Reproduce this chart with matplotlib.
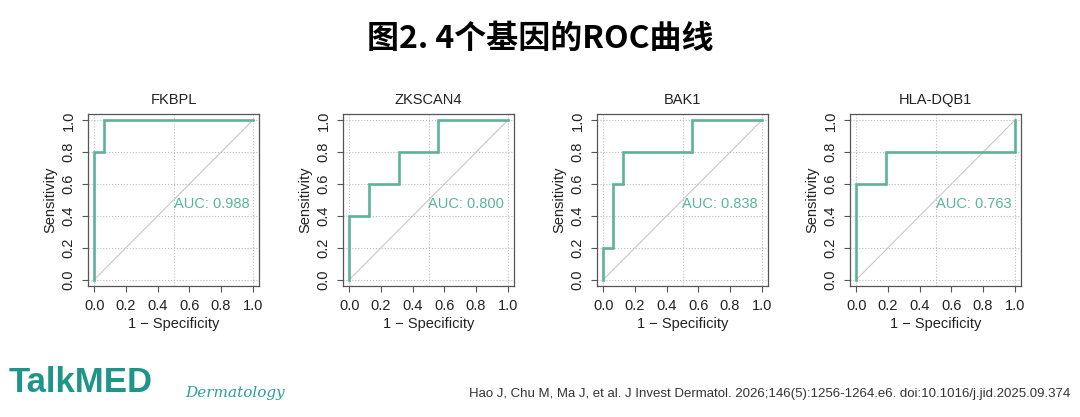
import numpy as np
import matplotlib
matplotlib.use('Agg')
import matplotlib.pyplot as plt

# ROC step curves (x = 1 - specificity, y = sensitivity)
genes = ['FKBPL', 'ZKSCAN4', 'BAK1', 'HLA-DQB1']
auc_values = [0.988, 0.800, 0.838, 0.763]
fpr = [
    [0, 0, 0.0625, 0.0625, 1],
    [0, 0, 0.125, 0.125, 0.3125, 0.3125, 0.5625, 0.5625, 1],
    [0, 0, 0.0625, 0.0625, 0.125, 0.125, 0.5625, 0.5625, 1],
    [0, 0, 0.1875, 0.1875, 1, 1],
]
tpr = [
    [0, 0.8, 0.8, 1, 1],
    [0, 0.4, 0.4, 0.6, 0.6, 0.8, 0.8, 1, 1],
    [0, 0.2, 0.2, 0.6, 0.6, 0.8, 0.8, 1, 1],
    [0, 0.6, 0.6, 0.8, 0.8, 1],
]
ticks = [0.0, 0.2, 0.4, 0.6, 0.8, 1.0]
tick_labels = ['0.0', '0.2', '0.4', '0.6', '0.8', '1.0']

title_text = '图2. 4个基因的ROC曲线'
citation = ('Hao J, Chu M, Ma J, et al. J Invest Dermatol. 2026;146(5):1256-1264.e6. '
            'doi:10.1016/j.jid.2025.09.374')

W, H = 1080, 417
roc_color = '#5cb39b'
sans = ['Liberation Sans', 'DejaVu Sans']

fig = plt.figure(figsize=(W / 100, H / 100), dpi=100)
fig.patch.set_facecolor('white')

fig.text(0.5, 1 - 39 / H, title_text, ha='center', va='center',
         fontsize=23, fontweight='bold', family=['Noto Sans CJK SC', 'DejaVu Sans'])

# Panel boxes in pixels
lefts = [88, 343, 597, 850]
box_w, box_top, box_bottom = 171, 114, 286

for i, gene in enumerate(genes):
    ax = fig.add_axes([lefts[i] / W, 1 - box_bottom / H, box_w / W,
                       (box_bottom - box_top) / H])
    ax.set_xlim(-0.04, 1.04)
    ax.set_ylim(-0.04, 1.04)

    # grid as in pROC
    for g in [0, 0.5, 1]:
        ax.axvline(g, color='#bdbdbd', lw=0.8, ls=':', zorder=1)
    for g in ticks:
        ax.axhline(g, color='#bdbdbd', lw=0.8, ls=':', zorder=1)
    ax.plot([0, 1], [0, 1], color='#c8c8c8', lw=0.8, zorder=2)

    ax.plot(fpr[i], tpr[i], color=roc_color, lw=1.9, zorder=3,
            solid_joinstyle='miter')
    ax.text(0.5, 0.52, f'AUC: {auc_values[i]:.3f}', color=roc_color,
            fontsize=10.5, ha='left', va='top', family=sans)

    ax.set_xticks(ticks)
    ax.set_xticklabels(tick_labels, family=sans, fontsize=10.5, color='#222222')
    ax.set_yticks(ticks)
    ax.set_yticklabels(tick_labels, family=sans, fontsize=10.5, color='#222222',
                       rotation=90, va='center')
    ax.tick_params(direction='out', length=4, width=0.8, color='#555555', pad=5)
    for s in ax.spines.values():
        s.set_color('#555555')
        s.set_linewidth(0.9)

    ax.set_title(gene, fontsize=10.5, family=sans, color='#222222', pad=7)
    ax.set_xlabel('1 \u2212 Specificity', fontsize=10.5, family=sans,
                  color='#222222', labelpad=3)
    ax.set_ylabel('Sensitivity', fontsize=10.5, family=sans,
                  color='#222222', labelpad=3)

# footer
fig.text(9 / W, 1 - 383 / H, 'TalkMED', ha='left', va='center', fontsize=25,
         fontweight='bold', color='#1f9488',
         family=['Liberation Sans Narrow', 'Liberation Sans', 'DejaVu Sans'])
fig.text(185 / W, 1 - 393 / H, 'Dermatology', ha='left', va='center',
         fontsize=11, style='italic', color='#2aa198',
         family=['DejaVu Serif'])
fig.text(1070 / W, 1 - 394 / H, citation, ha='right', va='center',
         fontsize=9.5, color='#333333',
         family=['Liberation Sans Narrow', 'Liberation Sans', 'DejaVu Sans'])

fig.savefig('out.png', dpi=100, facecolor='white')
plt.close(fig)
